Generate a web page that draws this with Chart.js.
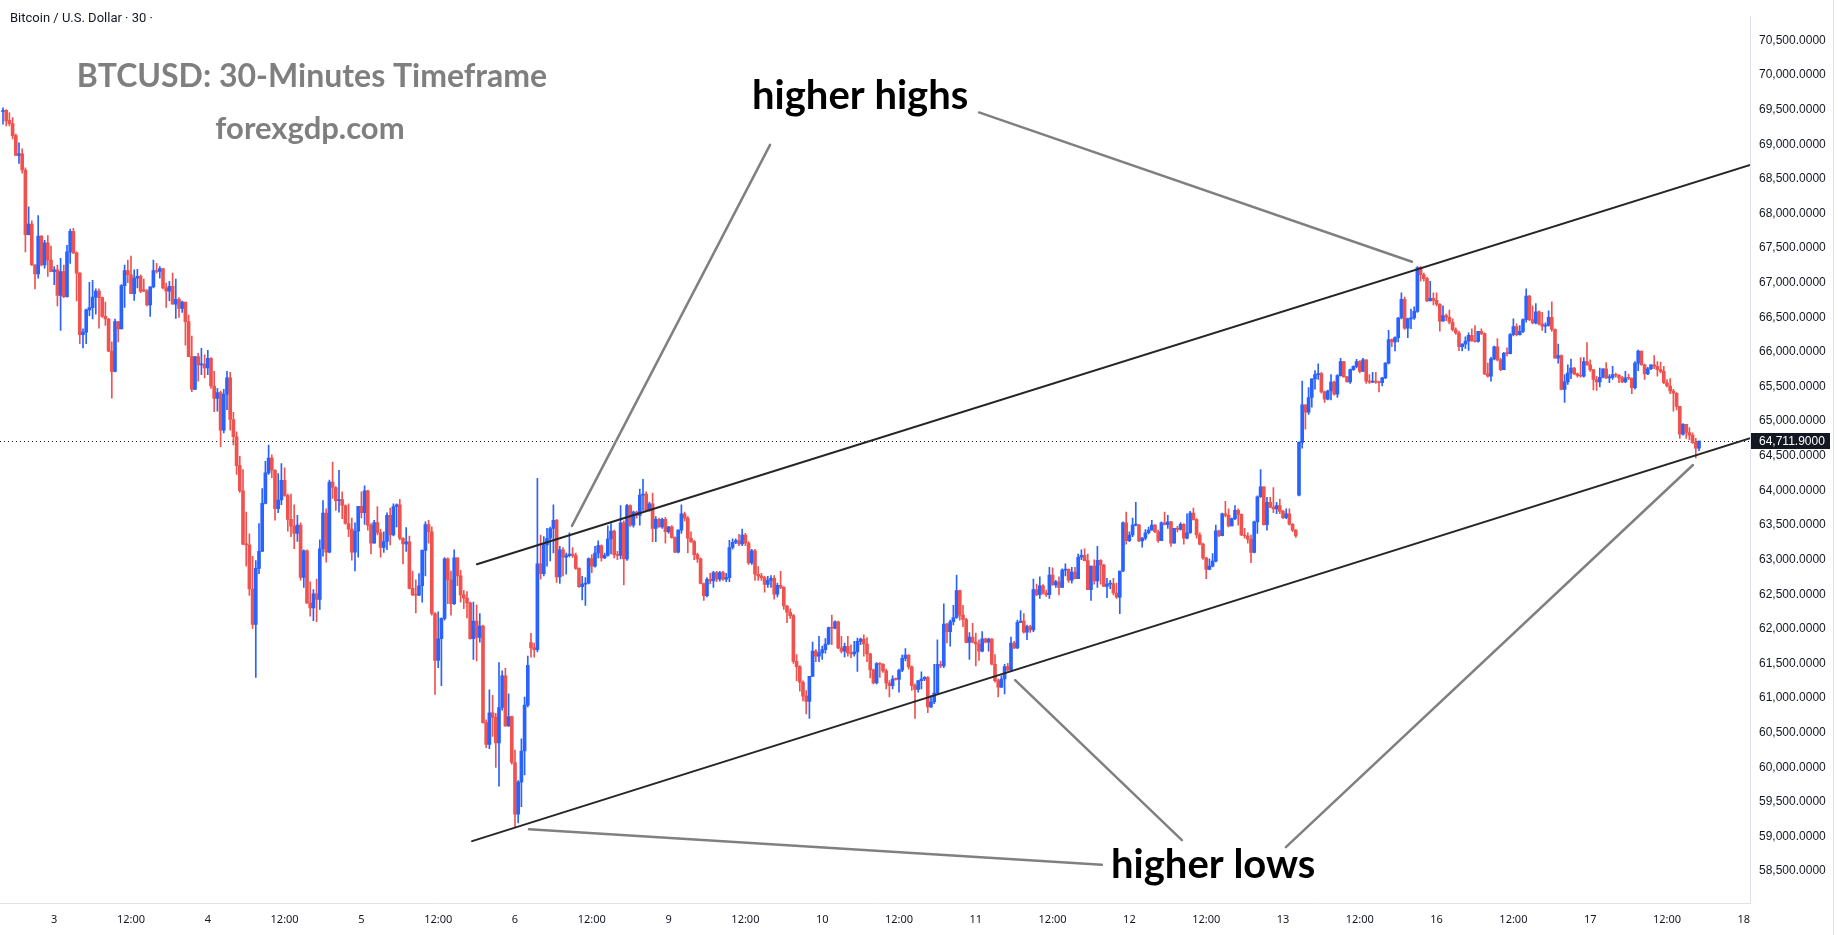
<!DOCTYPE html>
<html>
<head>
<meta charset="utf-8">
<script src="https://cdn.jsdelivr.net/npm/chart.js@4.4.1/dist/chart.umd.min.js"></script>
<style>
  html, body { margin: 0; padding: 0; background: #ffffff; }
  canvas { display: block; }
</style>
</head>
<body>
<canvas id="chart" width="1838" height="935"></canvas>
<script>
// BTCUSD 30-minute candles, index 0 = day 2 16:00 (weekend bars are not in the feed)
const opens = [
  69470,69490,69345,69298,69123,68839,68860,68627,67695,67847,
  67255,67128,67672,67255,67577,67326,67160,67185,66816,67160,
  66797,67445,67742,67430,67137,66248,66286,66608,66640,66792,
  66877,66783,66513,66475,66012,65719,66437,66333,66957,67175,
  67114,66840,67066,67090,66900,66877,66679,66939,67175,67161,
  67203,66924,66877,66948,66688,66759,66627,66721,66437,65932,
  65459,65932,65813,65824,65767,65908,65507,65327,65412,64868,
  65388,65625,65024,64774,64358,63994,63223,63213,62575,62065,
  62873,63119,63813,64253,64466,64291,63734,63861,64145,63923,
  63582,63483,63379,63497,62741,63128,62372,62301,62504,62424,
  63157,63672,63109,64121,64041,63852,63866,63781,63521,63440,
  63109,63412,63771,63677,63994,63497,63237,63535,63388,63176,
  63261,63639,63355,63767,63790,63308,63228,63256,62585,62490,
  62485,62622,63133,63507,63402,62221,61544,61857,62150,63010,
  62708,62362,63024,62764,62490,62443,62376,61857,62112,61876,
  62041,60646,60329,60788,60722,60353,60864,61322,60599,60731,
  60069,59322,59786,60235,60897,61800,61724,61700,62940,62797,
  63213,63308,63449,63567,62750,63142,63034,63057,63081,63057,
  62873,62608,62646,62660,63015,62906,63095,63203,63024,63062,
  63298,63412,63071,63060,63530,63010,63780,63497,63686,63639,
  63932,63946,63709,63804,63449,63582,63473,63582,63402,63473,
  63317,63109,63426,63662,63600,63308,63260,63071,63010,62655,
  62480,62716,62693,62811,62716,62811,62716,62740,63175,63251,
  63274,63227,63355,63237,62953,63128,62788,62764,62740,62640,
  62700,62730,62500,62630,62600,62330,62240,62190,61530,61455,
  61228,61029,60953,61313,61677,61606,61653,61700,61781,62017,
  62008,62102,61724,61677,61748,61653,61639,61667,61819,61852,
  61781,61639,61407,61218,61497,61488,61393,61218,61180,61275,
  61270,61402,61573,61620,61450,61180,61124,61251,61275,61298,
  60873,60944,61072,61488,61464,62069,61960,62102,62164,62551,
  62197,62135,61804,61880,61809,61781,61677,61856,61809,61852,
  61488,61251,61157,61275,61455,61407,61795,61724,62093,62112,
  61951,62031,61984,62566,62495,62622,62518,62495,62778,62636,
  62679,62599,62849,62860,62703,62821,62726,63034,63062,62986,
  62566,62906,62693,62991,62920,62613,62646,62655,62518,62457,
  62835,63530,63275,63355,63497,63500,63270,63308,63388,63426,
  63497,63402,63275,63530,63506,63544,63237,63450,63435,63511,
  63308,63388,63672,63577,63355,63223,63024,62859,62906,62977,
  63417,63346,63662,63638,63487,63591,63710,63653,63355,63341,
  63294,63104,63544,63908,64050,63506,63828,63757,63733,63781,
  63696,63606,63662,63511,63426,63932,64694,65237,65129,65341,
  65611,65672,65686,65422,65318,65436,65563,65389,65658,65861,
  65639,65568,65743,65790,65861,65719,65885,65578,65563,65578,
  65563,65554,65625,65837,66178,66145,66206,66490,66760,66344,
  66476,66490,66585,67218,67114,67058,66736,66774,66745,66689,
  66443,66523,66500,66429,66320,66273,66074,66112,66155,66240,
  66159,66150,66296,66263,65682,65649,65899,66074,65885,65743,
  65979,65975,66249,66367,66249,66296,66466,66807,66466,66419,
  66580,66405,66372,66381,66500,66325,65908,65946,65459,65568,
  65696,65767,65682,65658,65649,65861,65814,65743,65601,65568,
  65634,65757,65625,65630,65672,65663,65625,65568,65625,65620,
  65483,65837,66012,65814,65682,65757,65814,65790,65743,65719,
  65554,65507,65436,65403,65214,64812,64954,64836,64798,64689,
  64608
];
const highs = [
  69525,69501,69454,69383,69147,69019,68934,68660,68097,67894,
  67260,67970,67681,67610,67681,67530,67232,67255,67350,67255,
  67539,67775,67785,67445,67147,66333,66617,67005,67033,66910,
  66910,66792,66721,66485,66144,66475,66437,66972,67255,67326,
  67383,67185,67194,67114,67052,66901,66939,67326,67279,67232,
  67203,66995,67019,67137,67052,66783,66735,66721,66532,66229,
  65932,65979,66050,65956,66022,65918,65719,65473,65436,65459,
  65719,65705,65128,64845,64490,64301,63686,63374,63048,62986,
  63521,64027,64419,64655,64514,64301,64244,64386,64325,63946,
  63946,63790,63639,63530,63143,63143,62679,62566,62717,63284,
  63852,63734,64150,64410,64055,64291,63980,63790,63805,63601,
  63530,63771,63980,64065,64003,63521,63568,63766,63436,63402,
  63677,63743,63804,63804,63871,63318,63464,63341,62835,62708,
  62797,63143,63544,63568,63473,62235,62244,62159,63030,63024,
  62835,63142,63030,62844,62551,62537,62386,62386,62348,62221,
  62055,60684,61119,61039,60778,61511,61393,61431,61062,60741,
  60249,59809,60410,61015,61606,61936,61795,64173,63355,63332,
  63450,63470,63790,63580,63190,63175,63095,63388,63175,63095,
  62883,62760,62740,63024,63071,63190,63270,63213,63095,63487,
  63520,63426,63120,63780,63560,63800,63790,63700,63700,64017,
  64159,63980,63830,63960,63620,63600,63600,63610,63480,63490,
  63330,63430,63790,63686,63620,63400,63280,63095,63024,62660,
  62740,62800,62830,62830,62830,62830,62800,63280,63300,63300,
  63364,63440,63380,63260,63150,63150,62900,62800,62760,62760,
  62770,62770,62660,62830,62610,62340,62290,62210,61630,61470,
  61250,61110,61313,61810,61700,61890,61750,61860,62027,62197,
  62117,62112,61890,61795,61890,61770,61819,61866,61866,61913,
  61875,61648,61417,61511,61511,61497,61417,61251,61322,61290,
  61417,61620,61715,61630,61464,61205,61251,61380,61310,61310,
  61037,61488,61842,61535,62362,62080,62126,62339,62778,62560,
  62339,62150,61946,62080,61937,61842,61960,61866,61866,61860,
  61630,61275,61322,61488,61502,61880,61819,62126,62263,62220,
  62055,62050,62717,62646,62750,62640,62560,62890,62880,62700,
  62750,62868,62940,62868,62890,62890,63080,63143,63157,63080,
  62906,62998,63190,63001,62930,62730,62700,62730,62660,62835,
  63544,63686,63402,63600,63828,63510,63320,63435,63470,63568,
  63506,63426,63544,63686,63640,63554,63450,63480,63535,63520,
  63662,63696,63743,63591,63388,63237,63034,63010,63086,63497,
  63426,63672,63842,63733,63600,63781,63733,63662,63450,63388,
  63355,63558,63922,64301,64050,63900,63900,64040,63828,63875,
  63710,63733,63733,63520,63435,64700,65577,65237,65483,65611,
  65729,65828,65705,65436,65450,65672,65578,65672,65908,65861,
  65648,65753,65800,65894,65875,65908,65885,65672,65705,65705,
  65578,65634,65847,66310,66188,66216,66500,66854,66793,66490,
  66618,66651,67232,67232,67138,67076,67020,66854,66854,66698,
  66665,66547,66604,66476,66348,66301,66121,66216,66277,66334,
  66381,66296,66334,66277,65838,65923,66084,66192,65908,65994,
  66060,66263,66476,66405,66381,66476,66911,66816,66665,66698,
  66594,66570,66419,66594,66722,66334,66112,65956,65672,65814,
  65895,65776,65696,65918,65918,66136,65885,65743,65648,65767,
  65757,65847,65672,65790,65696,65672,65649,65720,65680,65625,
  65861,66027,66012,65823,65776,65814,65946,65861,65852,65790,
  65601,65616,65460,65412,65214,64963,64954,64906,64830,64750,
  64712
];
const lows = [
  69290,69265,69265,69076,68839,68721,68580,67445,67690,67250,
  66910,67066,67241,67208,67090,67160,66972,66664,66310,66783,
  66790,67279,67420,66735,66120,66059,66120,66522,66475,66546,
  66343,66499,66381,66003,65331,65710,66144,66333,66641,67000,
  66840,66745,66924,66854,66870,66664,66513,66924,67137,67066,
  66910,66641,66735,66688,66485,66499,66570,66097,65932,65426,
  65459,65577,65672,65625,65672,65473,65138,65143,64632,64830,
  65166,64868,64655,64230,63970,63214,62906,62481,62007,61299,
  62797,63119,63804,64230,64183,63568,63677,63795,63913,63412,
  63332,63157,63261,62703,62599,62372,62183,62117,62103,62282,
  63048,62963,63095,63885,63710,63686,63592,63511,63332,62991,
  62835,63034,63601,63507,63426,63081,63237,63356,63034,63105,
  63143,63213,63341,63473,63284,62939,63119,62575,62480,62230,
  62480,62386,62764,63237,62197,61053,61440,61180,62126,62362,
  62197,62348,62622,62386,62292,62159,61850,61559,61535,61809,
  60637,60282,60268,60447,59998,59729,60826,60590,60590,60046,
  59130,59195,59431,59890,60873,61592,61592,61668,62717,62764,
  62906,62980,63095,62670,62655,62764,62788,63040,63030,62860,
  62600,62419,62338,62650,62811,62890,63024,62977,63015,63050,
  63081,63024,63000,63010,62636,62990,63480,63470,63600,63497,
  63709,63700,63700,63260,63260,63470,63450,63237,63380,63310,
  63100,63095,63380,63560,63095,63250,63000,62960,62650,62409,
  62460,62650,62600,62680,62690,62700,62680,62680,63150,63230,
  63200,63200,63200,62930,62930,62700,62700,62700,62530,62600,
  62600,62430,62460,62580,62280,62090,62150,61500,61250,61100,
  60960,60770,60707,61313,61525,61525,61560,61650,61770,61770,
  61998,61714,61653,61596,61606,61582,61606,61384,61770,61606,
  61525,61290,61205,61205,61298,61370,61133,61015,61133,61260,
  61086,61383,61535,61417,61110,60707,61086,61133,61250,60788,
  60860,60920,61060,61440,61440,61795,61748,62055,62150,62126,
  62031,61795,61560,61795,61464,61545,61667,61795,61677,61480,
  61228,61015,61150,61060,61393,61393,61714,61714,62090,61937,
  61842,61950,61960,62480,62440,62500,62470,62440,62630,62600,
  62490,62599,62765,62670,62660,62720,62726,63000,62980,62566,
  62410,62646,62600,62646,62613,62450,62580,62490,62440,62220,
  62826,63223,63260,63332,63487,63260,63180,63285,63370,63426,
  63388,63250,63275,63500,63450,63190,63237,63400,63426,63223,
  63300,63380,63570,63308,63213,63001,62726,62850,62896,62968,
  63330,63341,63615,63473,63487,63577,63497,63345,63308,63237,
  62955,63095,63380,63898,63497,63426,63750,63677,63662,63662,
  63591,63591,63497,63402,63322,63920,64608,64883,65096,65200,
  65460,65602,65403,65270,65308,65308,65375,65341,65648,65634,
  65568,65545,65734,65767,65696,65719,65545,65545,65554,65545,
  65422,65507,65615,65828,66074,66013,66145,66476,66325,66206,
  66334,66471,66570,67020,67020,66727,66736,66679,66665,66301,
  66443,66452,66405,66301,66254,66018,66013,66050,66022,66155,
  66140,66140,66249,65672,65634,65578,65885,65871,65729,65743,
  65942,65970,66230,66230,66240,66277,66429,66452,66405,66405,
  66391,66310,66277,66372,66296,65908,65838,65450,65270,65530,
  65615,65672,65634,65634,65634,65805,65719,65450,65445,65493,
  65625,65615,65554,65601,65634,65554,65554,65554,65600,65398,
  65460,65729,65805,65601,65672,65743,65757,65649,65696,65540,
  65493,65398,65143,65162,64750,64797,64750,64727,64679,64467,
  64575
];
const closes = [
  69480,69336,69298,69123,68839,68860,68627,67695,67847,67255,
  67128,67672,67255,67577,67326,67160,67185,66816,67160,66797,
  67445,67742,67430,67137,66248,66286,66608,66640,66792,66877,
  66783,66513,66475,66012,65719,66437,66333,66957,67175,67114,
  66840,67066,67090,66877,66877,66679,66939,67175,67161,67203,
  66924,66877,66948,66688,66759,66627,66721,66437,65932,65459,
  65932,65813,65824,65767,65908,65507,65327,65412,64868,65388,
  65625,65024,64774,64358,63994,63223,63213,62575,62065,62873,
  63119,63813,64253,64466,64291,63734,63861,64145,63923,63582,
  63483,63379,63497,62741,63128,62372,62301,62504,62424,63157,
  63672,63109,64121,64041,63852,63866,63781,63521,63440,63109,
  63412,63771,63677,63994,63497,63237,63535,63388,63176,63261,
  63639,63355,63767,63790,63308,63228,63256,62585,62490,62485,
  62622,63133,63507,63402,62221,61544,61857,62150,63010,62708,
  62362,63024,62764,62490,62443,62376,61857,62112,61876,62041,
  60646,60329,60788,60722,60353,60864,61322,60599,60731,60069,
  59322,59786,60235,60897,61474,61724,61700,62940,62797,63213,
  63308,63449,63567,62750,63142,63034,63057,63081,63057,62873,
  62608,62646,62660,63015,62906,63095,63203,63024,63062,63298,
  63412,63071,63060,63530,63010,63780,63497,63686,63639,63932,
  63946,63709,63804,63449,63582,63473,63582,63402,63473,63317,
  63109,63426,63662,63600,63308,63260,63071,63010,62655,62480,
  62716,62693,62811,62716,62811,62716,62740,63175,63251,63274,
  63227,63355,63237,62953,63128,62788,62764,62740,62640,62700,
  62730,62500,62630,62600,62330,62240,62190,61530,61455,61228,
  61029,60953,61313,61677,61606,61653,61700,61781,62017,62008,
  62102,61724,61677,61748,61653,61639,61667,61819,61852,61781,
  61639,61407,61218,61497,61488,61393,61218,61180,61275,61270,
  61402,61573,61620,61450,61180,61124,61251,61275,61298,60873,
  60944,61072,61488,61464,62069,61960,62102,62164,62551,62197,
  62135,61804,61880,61809,61781,61677,61856,61809,61852,61488,
  61251,61157,61275,61455,61407,61795,61724,62093,62112,61951,
  62031,61984,62566,62495,62622,62518,62495,62778,62636,62679,
  62599,62849,62860,62703,62821,62726,63034,63062,62986,62566,
  62906,62693,62991,62920,62613,62646,62655,62518,62457,62835,
  63530,63275,63355,63497,63500,63270,63308,63388,63426,63497,
  63402,63275,63530,63506,63544,63237,63450,63435,63511,63308,
  63388,63672,63577,63355,63223,63024,62859,62906,62977,63417,
  63346,63662,63638,63487,63591,63710,63653,63355,63341,63294,
  63104,63544,63908,64050,63506,63828,63757,63733,63781,63696,
  63606,63662,63511,63426,63341,64694,65237,65129,65341,65611,
  65672,65686,65422,65318,65436,65563,65389,65658,65861,65639,
  65568,65743,65790,65861,65719,65885,65578,65563,65578,65563,
  65554,65625,65837,66178,66145,66206,66490,66760,66344,66476,
  66490,66585,67218,67114,67058,66736,66774,66745,66689,66443,
  66523,66500,66429,66320,66273,66074,66112,66155,66240,66159,
  66150,66296,66263,65682,65649,65899,66074,65885,65743,65979,
  65975,66249,66367,66249,66296,66466,66807,66466,66419,66580,
  66405,66372,66381,66500,66325,65908,65946,65459,65568,65696,
  65767,65682,65658,65649,65861,65814,65743,65601,65568,65634,
  65757,65625,65630,65672,65663,65625,65568,65625,65620,65483,
  65837,66012,65814,65682,65757,65814,65790,65743,65719,65554,
  65507,65436,65403,65214,64812,64954,64836,64798,64689,64608,
  64711.9
];

// axis ticks
const xTickIdx = [16,40,64,88,112,136,160,184,208,232,256,280,304,328,352,376,400,424,448,472,496,520,544];
const xLabels = ['3','12:00','4','12:00','5','12:00','6','12:00','9','12:00','10','12:00','11','12:00','12','12:00','13','12:00','16','12:00','17','12:00','18'];
const yTicks = [58500,59000,59500,60000,60500,61000,61500,62000,62500,63000,63500,64000,64500,
                65000,65500,66000,66500,67000,67500,68000,68500,69000,69500,70000,70500];

// drawn annotations, in [candle index, price] pairs
const channelLines = [
  [148.1, 62934, 546.0, 68700],
  [146.6, 58934, 546.0, 64755]
];
const pointerLines = [
  [239.7, 68991, 177.8, 63488],
  [305.0, 69459, 440.3, 67303],
  [343.4, 58594, 164.4, 59104],
  [368.4, 58947, 316.3, 61259],
  [400.9, 58848, 528.1, 64366]
];

const UP = '#2962ff';
const DOWN = '#ef5350';
const lastPrice = closes[closes.length - 1];
const candleColors = closes.map((c, i) => c >= opens[i] ? UP : DOWN);

const fmtPrice = v => v.toLocaleString('en-US', { minimumFractionDigits: 4, maximumFractionDigits: 4 });

const overlay = {
  id: 'overlay',
  beforeDatasetsDraw(chart) {
    const { ctx, chartArea: a, scales: { y } } = chart;
    const py = Math.round(y.getPixelForValue(lastPrice)) + 0.5;
    ctx.save();
    ctx.strokeStyle = '#131722';
    ctx.lineWidth = 1;
    ctx.setLineDash([1, 3]);
    ctx.beginPath();
    ctx.moveTo(a.left, py);
    ctx.lineTo(a.right, py);
    ctx.stroke();
    ctx.restore();
  },
  afterDatasetsDraw(chart) {
    const { ctx, chartArea: a, scales: { x, y } } = chart;
    ctx.save();
    ctx.beginPath();
    ctx.rect(a.left, a.top, a.right - a.left, a.bottom - a.top);
    ctx.clip();
    ctx.lineCap = 'round';
    ctx.strokeStyle = '#262626';
    ctx.lineWidth = 2;
    channelLines.forEach(l => {
      ctx.beginPath();
      ctx.moveTo(x.getPixelForValue(l[0]), y.getPixelForValue(l[1]));
      ctx.lineTo(x.getPixelForValue(l[2]), y.getPixelForValue(l[3]));
      ctx.stroke();
    });
    ctx.strokeStyle = '#808080';
    ctx.lineWidth = 2.5;
    pointerLines.forEach(l => {
      ctx.beginPath();
      ctx.moveTo(x.getPixelForValue(l[0]), y.getPixelForValue(l[1]));
      ctx.lineTo(x.getPixelForValue(l[2]), y.getPixelForValue(l[3]));
      ctx.stroke();
    });
    ctx.restore();
  },
  afterDraw(chart) {
    const { ctx, chartArea: a, scales: { y } } = chart;
    ctx.save();
    // header
    ctx.fillStyle = '#131722';
    ctx.font = '13px Roboto';
    ctx.textBaseline = 'middle';
    ctx.textAlign = 'left';
    ctx.fillText('Bitcoin / U.S. Dollar · 30 ·', 10, 19);
    // watermark title
    ctx.fillStyle = '#7f7f7f';
    ctx.textAlign = 'center';
    ctx.textBaseline = 'alphabetic';
    ctx.font = 'bold 32px Lato';
    ctx.fillText('BTCUSD: 30-Minutes Timeframe', 312, 87);
    ctx.font = 'bold 31px Lato';
    ctx.fillText('forexgdp.com', 310, 139);
    // annotations
    ctx.fillStyle = '#000000';
    ctx.textAlign = 'left';
    ctx.font = 'bold 40px Lato';
    ctx.fillText('higher highs', 752, 109);
    ctx.fillText('higher lows', 1111, 878);
    // right frame edge
    ctx.fillStyle = '#e0e3eb';
    ctx.fillRect(1833, 0, 1, 935);
    // last price label
    const py = Math.round(y.getPixelForValue(lastPrice));
    ctx.fillStyle = '#131722';
    ctx.fillRect(a.right + 1, py - 8, 79, 16);
    ctx.fillStyle = '#ffffff';
    ctx.font = '12px "Liberation Sans"';
    ctx.textBaseline = 'middle';
    ctx.fillText(fmtPrice(lastPrice), a.right + 9, py + 1);
    ctx.restore();
  }
};

new Chart(document.getElementById('chart'), {
  type: 'bar',
  data: {
    datasets: [
      {
        label: 'wick',
        data: lows.map((l, i) => ({ x: i, y: [l, highs[i]] })),
        backgroundColor: candleColors,
        barThickness: 1,
        minBarLength: 1,
        grouped: false,
        order: 2
      },
      {
        label: 'body',
        data: opens.map((o, i) => ({ x: i, y: [Math.min(o, closes[i]), Math.max(o, closes[i])] })),
        backgroundColor: candleColors,
        barThickness: 3,
        minBarLength: 1,
        grouped: false,
        order: 1
      }
    ]
  },
  options: {
    responsive: false,
    animation: false,
    layout: { padding: 0 },
    plugins: {
      legend: { display: false },
      tooltip: { enabled: false }
    },
    scales: {
      x: {
        type: 'linear',
        min: -0.9375,
        max: 545.9375,
        offset: false,
        grid: { display: false, drawTicks: false },
        border: { display: true, color: '#e0e3eb' },
        afterBuildTicks: s => { s.ticks = xTickIdx.map(v => ({ value: v })); },
        afterFit: s => { s.height = 32; },
        ticks: {
          autoSkip: false,
          maxRotation: 0,
          padding: 10,
          color: '#131722',
          font: { family: '"Noto Sans"', size: 11 },
          callback: (v, i) => xLabels[i]
        }
      },
      y: {
        position: 'right',
        min: 58040,
        max: 70849,
        grid: { display: false, drawTicks: false },
        border: { display: true, color: '#e0e3eb' },
        afterBuildTicks: s => { s.ticks = yTicks.map(v => ({ value: v })); },
        afterFit: s => { s.width = 88; },
        ticks: {
          padding: 9,
          color: '#131722',
          font: { family: '"Liberation Sans"', size: 12 },
          callback: v => fmtPrice(v)
        }
      }
    }
  },
  plugins: [overlay]
});
</script>
</body>
</html>
